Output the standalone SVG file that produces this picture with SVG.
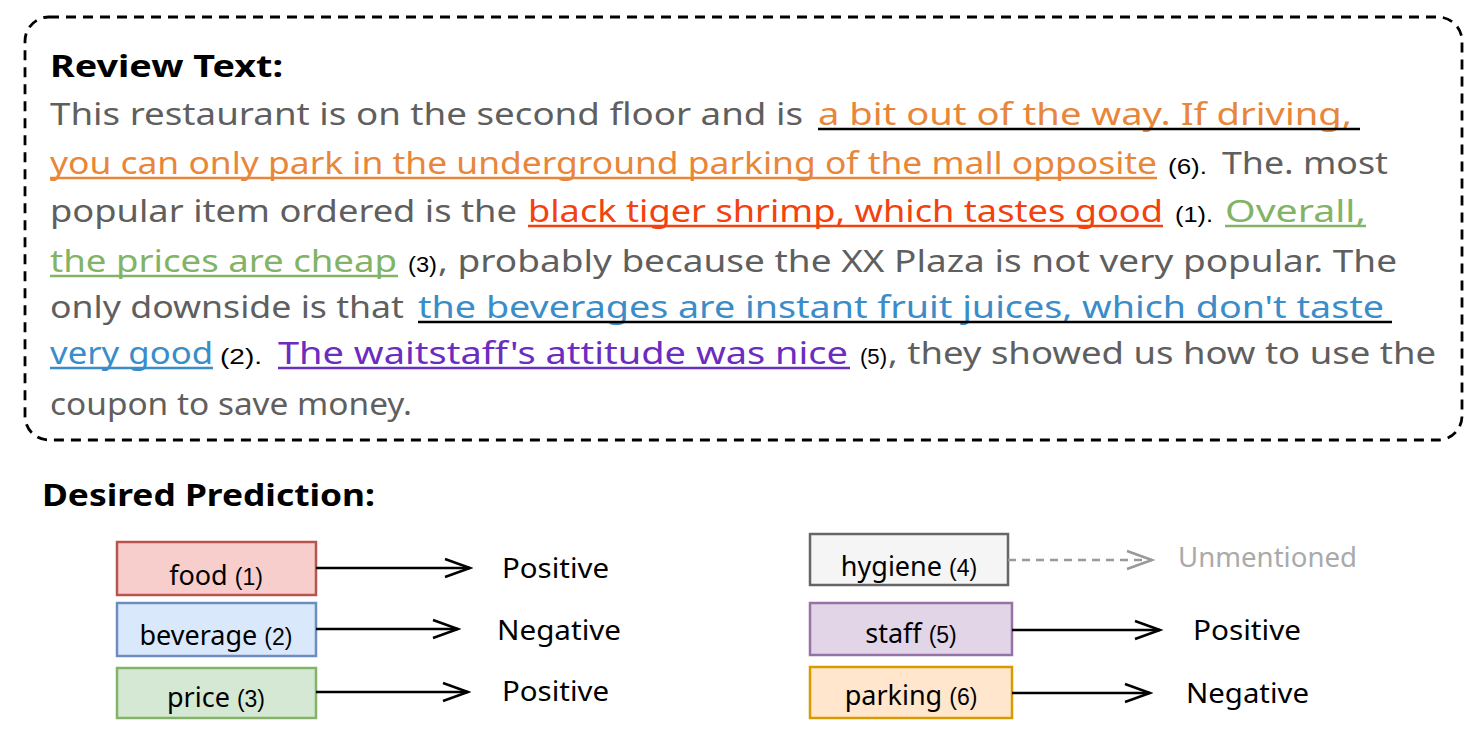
<svg xmlns="http://www.w3.org/2000/svg" width="1483" height="749" viewBox="0 0 1483 749">
<defs>
<style>
text{font-family:"Noto Sans","DejaVu Sans",sans-serif;}
.t{font-size:31px;}
.g{fill:#5f5f5f;}
.or{fill:#e8863a;}
.rd{fill:#f2420f;}
.gr{fill:#82b366;}
.bl{fill:#3a8dc8;}
.pu{fill:#6b2cbf;}
.n{font-family:"Liberation Sans Narrow","Liberation Sans",Arial,sans-serif;font-size:22px;fill:#000;}
.h{font-size:30px;font-weight:bold;fill:#000;}
.ul{stroke-width:2.6;fill:none;}
.box{stroke-width:2.5;}
.lbl{font-size:27px;fill:#000;text-anchor:middle;}
.lbl tspan.s{font-family:"Liberation Sans Narrow","Liberation Sans",Arial,sans-serif;font-size:23px;}
.res{font-size:28px;fill:#000;}
.arr{stroke:#000;stroke-width:2.5;fill:none;marker-end:url(#chev);}
.darr{stroke:#999;stroke-width:2.5;fill:none;stroke-dasharray:8 6;marker-end:url(#chevg);}
</style>
<marker id="chev" markerUnits="userSpaceOnUse" markerWidth="30" markerHeight="24" refX="27" refY="12" orient="auto" viewBox="0 0 30 24">
<path d="M2,3 L27,12 L2,21" fill="none" stroke="#000" stroke-width="2.5"/>
</marker>
<marker id="chevg" markerUnits="userSpaceOnUse" markerWidth="30" markerHeight="24" refX="27" refY="12" orient="auto" viewBox="0 0 30 24">
<path d="M2,3 L27,12 L2,21" fill="none" stroke="#999" stroke-width="2.5"/>
</marker>
</defs>
<rect width="1483" height="749" fill="#fff"/>

<g id="review">
<rect x="25" y="17" width="1437" height="423" rx="24" fill="none" stroke="#000" stroke-width="2.8" stroke-dasharray="10 7"/>
<text class="h" x="50" y="77" textLength="233" lengthAdjust="spacingAndGlyphs">Review Text:</text>

<text class="t g" x="50" y="125" textLength="753" lengthAdjust="spacingAndGlyphs">This restaurant is on the second floor and is</text>
<text class="t or" x="818" y="125" textLength="534" lengthAdjust="spacingAndGlyphs">a bit out of the way. If driving,</text>
<path class="ul" stroke="#000" d="M818,129 H1360"/>

<text class="t or" x="50" y="174" textLength="1107" lengthAdjust="spacingAndGlyphs">you can only park in the underground parking of the mall opposite</text>
<path class="ul" stroke="#e8863a" d="M50,178 H1157"/>
<text class="n" x="1168" y="174" textLength="39" lengthAdjust="spacingAndGlyphs">(6).</text>
<text class="t g" x="1222" y="174" textLength="166" lengthAdjust="spacingAndGlyphs">The. most</text>

<text class="t g" x="50" y="222" textLength="467" lengthAdjust="spacingAndGlyphs">popular item ordered is the</text>
<text class="t rd" x="528" y="222" textLength="635" lengthAdjust="spacingAndGlyphs">black tiger shrimp, which tastes good</text>
<path class="ul" stroke="#f2420f" d="M528,226 H1163"/>
<text class="n" x="1175" y="222" textLength="38" lengthAdjust="spacingAndGlyphs">(1).</text>
<text class="t gr" x="1225" y="222" textLength="141" lengthAdjust="spacingAndGlyphs">Overall,</text>
<path class="ul" stroke="#82b366" d="M1225,226 H1366"/>

<text class="t gr" x="50" y="272" textLength="347" lengthAdjust="spacingAndGlyphs">the prices are cheap</text>
<path class="ul" stroke="#82b366" d="M50,276 H398"/>
<text class="n" x="408" y="272" textLength="29" lengthAdjust="spacingAndGlyphs">(3)</text>
<text class="t g" x="438" y="272" textLength="959" lengthAdjust="spacingAndGlyphs">, probably because the XX Plaza is not very popular. The</text>

<text class="t g" x="50" y="318" textLength="354" lengthAdjust="spacingAndGlyphs">only downside is that</text>
<text class="t bl" x="418" y="318" textLength="966" lengthAdjust="spacingAndGlyphs">the beverages are instant fruit juices, which don't taste</text>
<path class="ul" stroke="#000" d="M418,322 H1392"/>

<text class="t bl" x="50" y="364" textLength="163" lengthAdjust="spacingAndGlyphs">very good</text>
<path class="ul" stroke="#3a8dc8" d="M50,368 H213"/>
<text class="n" x="220" y="364" textLength="42" lengthAdjust="spacingAndGlyphs">(2).</text>
<text class="t pu" x="278" y="364" textLength="570" lengthAdjust="spacingAndGlyphs">The waitstaff's attitude was nice</text>
<path class="ul" stroke="#6b2cbf" d="M278,368 H850"/>
<text class="n" x="860" y="364" textLength="27" lengthAdjust="spacingAndGlyphs">(5)</text>
<text class="t g" x="888" y="364" textLength="548" lengthAdjust="spacingAndGlyphs">, they showed us how to use the</text>

<text class="t g" x="50" y="415" textLength="362" lengthAdjust="spacingAndGlyphs">coupon to save money.</text>
</g>

<text class="h" x="42" y="506" textLength="333" lengthAdjust="spacingAndGlyphs">Desired Prediction:</text>

<g id="food">
<rect class="box" x="117" y="542" width="199" height="53" fill="#f8cecc" stroke="#b85450"/>
<text class="lbl" x="216" y="585">food <tspan class="s">(1)</tspan></text>
</g>
<g id="beverage">
<rect class="box" x="117" y="603" width="199" height="53" fill="#dae8fc" stroke="#6c8ebf"/>
<text class="lbl" x="216" y="645">beverage <tspan class="s">(2)</tspan></text>
</g>
<g id="price">
<rect class="box" x="117" y="668" width="199" height="50" fill="#d5e8d4" stroke="#82b366"/>
<text class="lbl" x="216" y="707">price <tspan class="s">(3)</tspan></text>
</g>
<g id="hygiene">
<rect class="box" x="810" y="534" width="198" height="51" fill="#f5f5f5" stroke="#666666"/>
<text class="lbl" x="909" y="576">hygiene <tspan class="s">(4)</tspan></text>
</g>
<g id="staff">
<rect class="box" x="810" y="603" width="202" height="52" fill="#e1d5e7" stroke="#9673a6"/>
<text class="lbl" x="911" y="643">staff <tspan class="s">(5)</tspan></text>
</g>
<g id="parking">
<rect class="box" x="810" y="667" width="202" height="51" fill="#ffe6cc" stroke="#d79b00"/>
<text class="lbl" x="911" y="705">parking <tspan class="s">(6)</tspan></text>
</g>

<g id="results">
<text class="res" x="502" y="578" textLength="107" lengthAdjust="spacingAndGlyphs">Positive</text>
<text class="res" x="497" y="640" textLength="124" lengthAdjust="spacingAndGlyphs">Negative</text>
<text class="res" x="502" y="701" textLength="107" lengthAdjust="spacingAndGlyphs">Positive</text>
<text class="res" x="1178" y="567" textLength="179" lengthAdjust="spacingAndGlyphs" style="fill:#aaaaaa">Unmentioned</text>
<text class="res" x="1193" y="640" textLength="108" lengthAdjust="spacingAndGlyphs">Positive</text>
<text class="res" x="1186" y="703" textLength="123" lengthAdjust="spacingAndGlyphs">Negative</text>
</g>

<g id="connectors">
<path class="arr" d="M316,568 H470"/>
<path class="arr" d="M316,629 H458"/>
<path class="arr" d="M316,692 H468"/>
<path class="darr" d="M1008,560 H1152"/>
<path class="arr" d="M1012,630 H1160"/>
<path class="arr" d="M1012,693 H1150"/>
</g>
</svg>
